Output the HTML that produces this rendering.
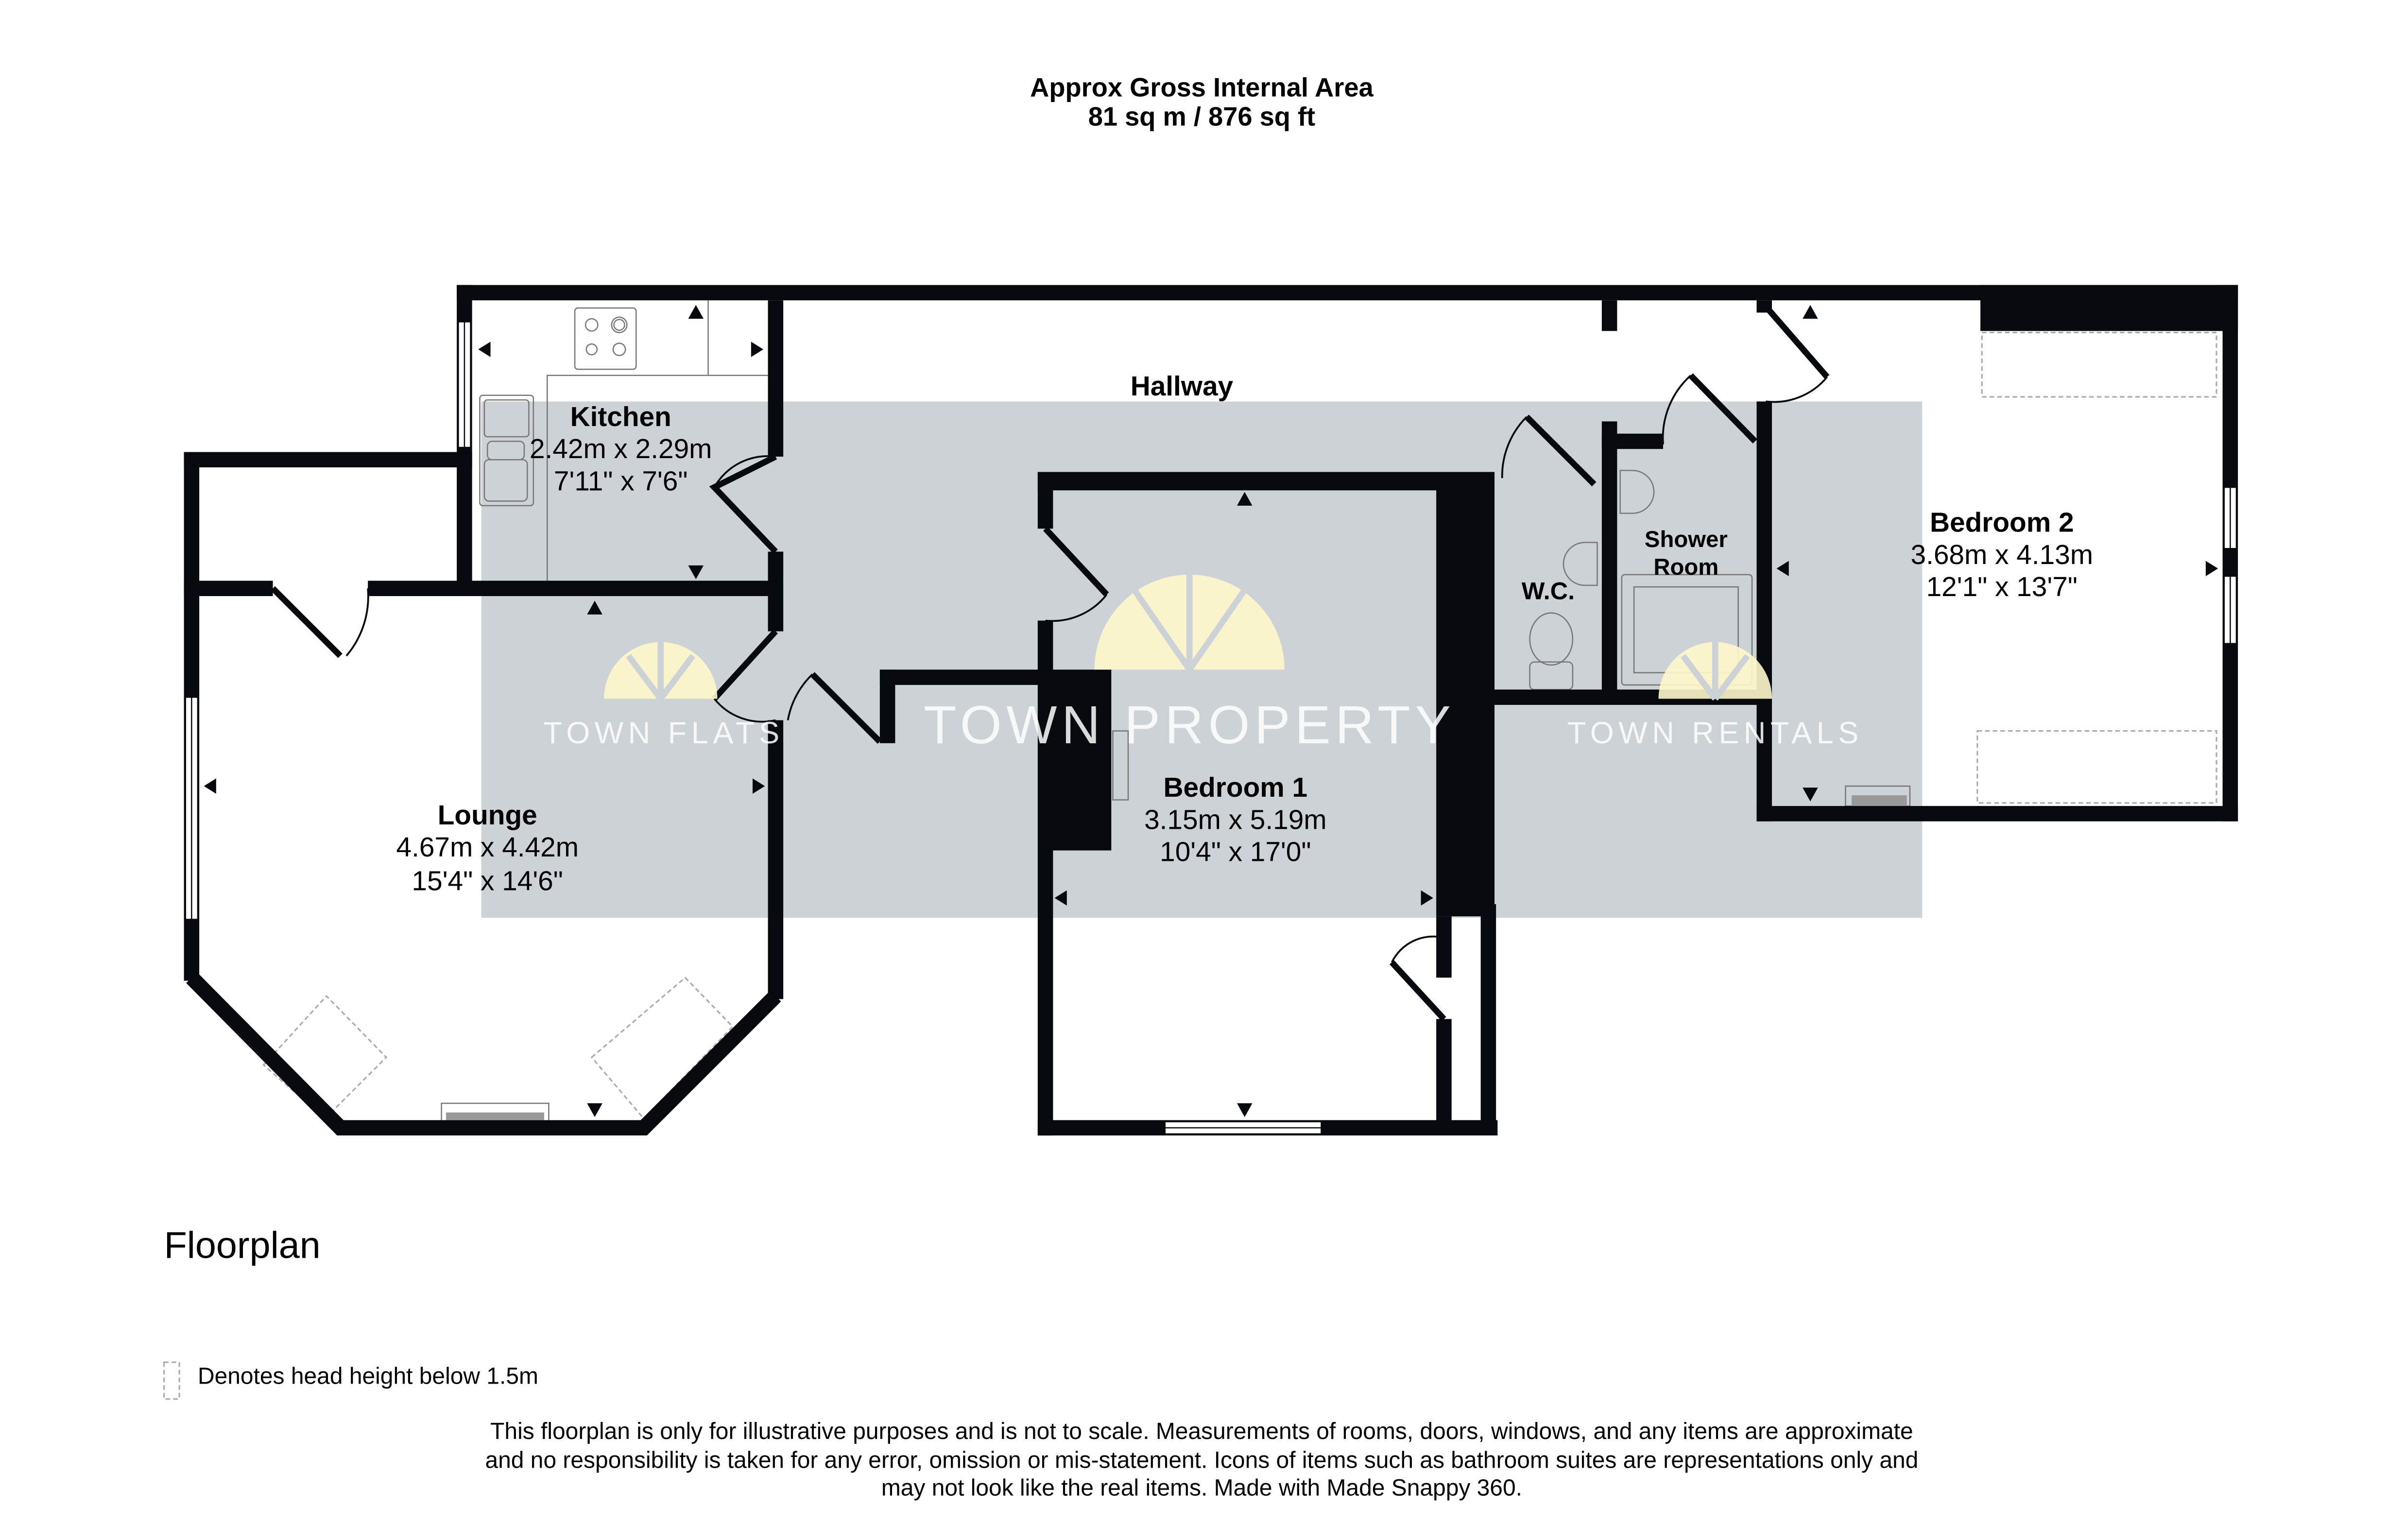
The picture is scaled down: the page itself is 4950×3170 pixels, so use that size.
<!DOCTYPE html>
<html><head><meta charset="utf-8"><style>
html,body{margin:0;padding:0;background:#fff;}
svg{display:block;}
text{font-family:"Liberation Sans",Arial,sans-serif;}
</style></head><body>
<svg width="4950" height="3170" viewBox="0 0 1569 1005" preserveAspectRatio="none" xmlns="http://www.w3.org/2000/svg">
<rect width="1569" height="1005" fill="#fff"/>
<text x="784" y="63" font-size="17.2" font-weight="bold" text-anchor="middle">Approx Gross Internal Area</text>
<text x="784" y="82" font-size="17.2" font-weight="bold" text-anchor="middle">81 sq m / 876 sq ft</text>

<rect x="314" y="262" width="940" height="337" fill="#cdd2d6"/>

<g fill="none" stroke="#777" stroke-width="0.8">
<rect x="375" y="201" width="40" height="40" rx="2"/>
<circle cx="386" cy="212" r="4"/><circle cx="404" cy="212" r="5"/><circle cx="404" cy="212" r="3.5"/>
<circle cx="386" cy="228" r="3.5"/><circle cx="404" cy="228" r="4"/>
<path d="M357 380 V245 H462 M462 196 V245 H501"/>
<rect x="313" y="258" width="35" height="72" rx="2"/>
<rect x="316" y="261" width="29" height="24" rx="2"/>
<rect x="318" y="288" width="24" height="12" rx="3"/>
<rect x="316" y="300" width="28" height="27" rx="3"/>
</g>
<g fill="none" stroke="#aaa" stroke-width="1" stroke-dasharray="3,2">
<rect x="1293" y="217" width="153" height="42"/>
<rect x="1290" y="477" width="156" height="47"/>
<polygon points="172,695 213,650 252,690 212,730"/>
<polygon points="386,690 447,638 478,670 420,730"/>
<rect x="107" y="889" width="10" height="24"/>
</g>
<g fill="none" stroke="#777" stroke-width="0.8">
<path d="M1057 307 h8 a13 13 0 0 1 0 28 h-8 z"/>
<path d="M1042 354 h-8 a13 13 0 0 0 0 28 h8 z"/>
<rect x="1058" y="375" width="85" height="72" rx="2"/>
<rect x="1066" y="383" width="68" height="56"/>
<ellipse cx="1012" cy="417" rx="14" ry="17"/>
<rect x="998" y="432" width="28" height="18" rx="3"/>
<rect x="1204" y="513" width="42" height="13"/>
<rect x="288" y="720" width="70" height="12"/>
<rect x="726" y="477" width="10" height="45"/>
</g>
<rect x="1208" y="519" width="36" height="7" fill="#999"/>
<rect x="291" y="726" width="64" height="5" fill="#999"/>

<g fill="#060a0e">
<rect x="298" y="186" width="1162" height="10"/>
<rect x="1292" y="186" width="168" height="30"/>
<rect x="1450" y="186" width="10" height="350"/>
<rect x="1146" y="526" width="314" height="10"/>
<rect x="1146" y="262" width="10" height="274"/>
<rect x="1146" y="196" width="10" height="8"/>
<rect x="1045" y="196" width="10" height="20"/>
<rect x="298" y="186" width="10" height="110"/>
<rect x="501" y="196" width="10" height="102"/>
<rect x="501" y="360" width="10" height="52"/>
<rect x="298" y="379" width="208" height="10"/>
<rect x="120" y="379" width="58" height="10"/>
<rect x="240" y="379" width="266" height="10"/>
<rect x="120" y="295" width="188" height="10"/>
<rect x="120" y="295" width="10" height="345"/>
<rect x="298" y="295" width="10" height="90"/>
<rect x="501" y="470" width="10" height="182"/>
<rect x="574" y="437" width="10" height="48"/>
<rect x="574" y="437" width="108" height="10"/>
<rect x="677" y="308" width="298" height="12"/>
<rect x="677" y="308" width="10" height="37"/>
<rect x="677" y="405" width="10" height="336"/>
<rect x="680" y="437" width="45" height="118"/>
<rect x="677" y="731" width="300" height="10"/>
<rect x="937" y="308" width="38" height="290"/>
<rect x="937" y="598" width="10" height="40"/>
<rect x="937" y="665" width="10" height="70"/>
<rect x="966" y="590" width="10" height="150"/>
<rect x="975" y="450" width="181" height="10"/>
<rect x="1045" y="275" width="10" height="180"/>
<rect x="1045" y="283" width="40" height="10"/>
</g>
<polyline points="125,638 222,736 420,736 506,650" fill="none" stroke="#060a0e" stroke-width="10"/>

<g fill="#fff" stroke="#060a0e" stroke-width="0.8">
<rect x="299" y="210" width="8" height="82"/>
<line x1="303" y1="210" x2="303" y2="292"/>
<rect x="121" y="455" width="8" height="145"/>
<line x1="125" y1="455" x2="125" y2="600"/>
<rect x="1451" y="318" width="8" height="40"/>
<line x1="1455" y1="318" x2="1455" y2="358"/>
<rect x="1451" y="376" width="8" height="44"/>
<line x1="1455" y1="376" x2="1455" y2="420"/>
<rect x="760" y="732" width="102" height="8"/>
<line x1="760" y1="736" x2="862" y2="736"/>
</g>

<g fill="none" stroke="#060a0e">
<path d="M506 298 L466 318 L506 360" stroke-width="4"/>
<path d="M506 298 A40 40 0 0 0 466 318" stroke-width="1.2"/>
<path d="M178 384 L222 428" stroke-width="4"/>
<path d="M240 384 A60 60 0 0 1 226 428" stroke-width="1.2"/>
<path d="M506 412 L466 456" stroke-width="4"/>
<path d="M466 456 A40 40 0 0 0 506 470" stroke-width="1.2"/>
<path d="M530 440 L574 484" stroke-width="4"/>
<path d="M514 470 A55 55 0 0 1 530 440" stroke-width="1.2"/>
<path d="M682 345 L722 388" stroke-width="4"/>
<path d="M722 388 A45 45 0 0 1 682 405" stroke-width="1.2"/>
<path d="M942 665 L908 628" stroke-width="4"/>
<path d="M908 628 A30 30 0 0 1 942 612" stroke-width="1.2"/>
<path d="M996 272 L1040 316" stroke-width="4"/>
<path d="M980 312 A55 55 0 0 1 996 272" stroke-width="1.2"/>
<path d="M1103 245 L1145 288" stroke-width="4"/>
<path d="M1085 290 A55 55 0 0 1 1103 245" stroke-width="1.2"/>
<path d="M1152 200 L1192 246" stroke-width="4"/>
<path d="M1192 246 A45 45 0 0 1 1152 262" stroke-width="1.2"/>
</g>

<g fill="#060a0e">
<polygon points="449,208 459,208 454,199"/>
<polygon points="312,228 320,223 320,233"/>
<polygon points="498,228 490,223 490,233"/>
<polygon points="449,369 459,369 454,378"/>
<polygon points="383,401 393,401 388,392"/>
<polygon points="133,513 141,508 141,518"/>
<polygon points="499,513 491,508 491,518"/>
<polygon points="383,720 393,720 388,729"/>
<polygon points="807,330 817,330 812,321"/>
<polygon points="688,586 696,581 696,591"/>
<polygon points="935,586 927,581 927,591"/>
<polygon points="807,720 817,720 812,729"/>
<polygon points="1176,208 1186,208 1181,199"/>
<polygon points="1159,371 1167,366 1167,376"/>
<polygon points="1447,371 1439,366 1439,376"/>
<polygon points="1176,514 1186,514 1181,523"/>
</g>

<g fill="#fff7cc" opacity="0.9">
<path d="M714 437 A62 62 0 0 1 838 437 Z"/>
<path d="M394 456 A37 37 0 0 1 468 456 Z"/>
<path d="M1082 456 A37 37 0 0 1 1156 456 Z"/>
</g>
<g stroke="#cdd2d6" stroke-width="4" fill="none">
<path d="M776 437 V372 M776 437 L740 385 M776 437 L812 385"/>
<path d="M431 456 V416 M431 456 L410 428 M431 456 L452 428"/>
<path d="M1119 456 V416 M1119 456 L1098 428 M1119 456 L1140 428"/>
</g>
<g fill="#fff" opacity="0.85">
<text x="776" y="485" font-size="35" text-anchor="middle" letter-spacing="3">TOWN PROPERTY</text>
<text x="433" y="485" font-size="20" text-anchor="middle" letter-spacing="3">TOWN FLATS</text>
<text x="1119" y="485" font-size="20" text-anchor="middle" letter-spacing="3">TOWN RENTALS</text>
</g>

<g text-anchor="middle" fill="#000">
<text x="405" y="278" font-size="18" font-weight="bold">Kitchen</text>
<text x="405" y="299" font-size="18">2.42m x 2.29m</text>
<text x="405" y="320" font-size="18">7'11" x 7'6"</text>
<text x="771" y="258" font-size="18" font-weight="bold">Hallway</text>
<text x="318" y="538" font-size="18" font-weight="bold">Lounge</text>
<text x="318" y="559" font-size="18">4.67m x 4.42m</text>
<text x="318" y="581" font-size="18">15'4" x 14'6"</text>
<text x="806" y="520" font-size="18" font-weight="bold">Bedroom 1</text>
<text x="806" y="541" font-size="18">3.15m x 5.19m</text>
<text x="806" y="562" font-size="18">10'4" x 17'0"</text>
<text x="1306" y="347" font-size="18" font-weight="bold">Bedroom 2</text>
<text x="1306" y="368" font-size="18">3.68m x 4.13m</text>
<text x="1306" y="389" font-size="18">12'1" x 13'7"</text>
<text x="1100" y="357" font-size="15" font-weight="bold">Shower</text>
<text x="1100" y="375" font-size="15" font-weight="bold">Room</text>
<text x="1010" y="391" font-size="16" font-weight="bold">W.C.</text>
</g>
<text x="107" y="821" font-size="24.5">Floorplan</text>
<text x="129" y="903" font-size="15.2">Denotes head height below 1.5m</text>
<g text-anchor="middle" font-size="15.2">
<text x="784" y="939">This floorplan is only for illustrative purposes and is not to scale. Measurements of rooms, doors, windows, and any items are approximate</text>
<text x="784" y="958">and no responsibility is taken for any error, omission or mis-statement. Icons of items such as bathroom suites are representations only and</text>
<text x="784" y="976">may not look like the real items. Made with Made Snappy 360.</text>
</g>
</svg>
</body></html>
